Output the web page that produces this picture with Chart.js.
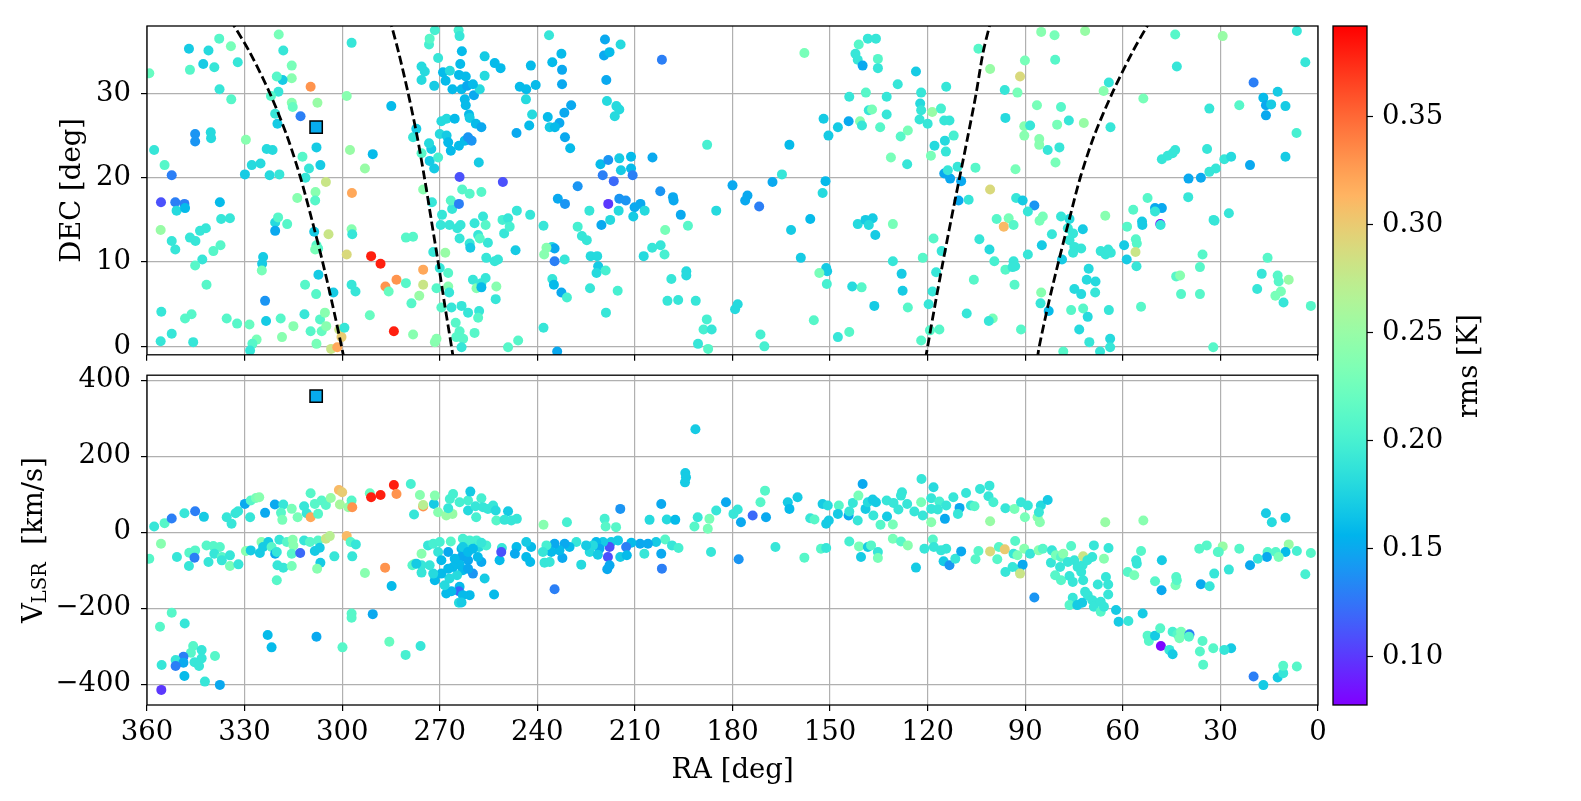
<!DOCTYPE html>
<html>
<head>
<meta charset="utf-8">
<title>RA / DEC / VLSR survey map</title>
<script src="https://cdn.jsdelivr.net/npm/chart.js@4.4.1/dist/chart.umd.min.js"></script>
<style>
  html, body { margin: 0; padding: 0; background: #fff; }
  #wrap { position: relative; width: 1581px; height: 801px; overflow: hidden; }
  canvas { position: absolute; }
  #decChart { left: 0; top: 0; }
  #velChart { left: 0; top: 365px; }
  #barChart { left: 1330px; top: 0; }
</style>
</head>
<body>
<div id="wrap">
  <canvas id="decChart" width="1330" height="365"></canvas>
  <canvas id="velChart" width="1330" height="436"></canvas>
  <canvas id="barChart" width="251" height="801"></canvas>
</div>
<script>
// axis ticks
const raTicks = [360, 330, 300, 270, 240, 210, 180, 150, 120, 90, 60, 30, 0];
const decTicks = [0, 10, 20, 30];
const velTicks = [-400, -200, 0, 200, 400];
const rmsTicks = [0.10, 0.15, 0.20, 0.25, 0.30, 0.35];
const rmsRange = [0.0777, 0.392];

// dashed boundary curves in the DEC panel: [ra, dec]
const curveA = [[299.4,-1.5],[300.2,0],[303.0,5],[306.0,10],[309.3,15],[312.8,20],[317.0,25],[322.2,30],[328.3,34.8],[333.2,38],[335.0,39]];
const curveB = [[265.8,-1.5],[266.4,0],[268.5,5],[270.5,10],[272.6,15],[274.7,20],[277.0,25],[279.7,30],[282.6,34.8],[284.8,38],[285.5,39]];
const curveC = [[120.7,-1.5],[120.0,0],[117.7,5],[115.3,10],[112.8,15],[110.2,20],[107.6,25],[105.1,30],[103.0,34.8],[101.0,38],[100.4,39]];
const curveD = [[86.3,-1.5],[85.7,0],[82.9,5],[79.8,10],[76.5,15],[73.1,20],[68.8,25],[63.3,30],[57.2,34.8],[52.5,38],[50.8,39]];

// the highlighted source (square)
const squareDec = [[308.0, 26.0]];
const squareVel = [[308.0, 358]];
const squareRms = 0.152;

// sources: [ra, dec, rms]
const decPoints = [
  [359.3,32.4,0.22],[347.1,35.3,0.17],[337.8,36.5,0.21],[334.2,35.6,0.23],[341.1,35.1,0.18],[342.7,33.5,0.17],[346.8,32.8,0.21],[339.3,33.1,0.19],[332.1,33.7,0.19],[337.7,30.5,0.19],
  [334.1,29.3,0.21],[319.5,37.0,0.23],[318.1,35.1,0.19],[315.5,33.3,0.23],[315.5,31.8,0.24],[318.3,31.6,0.17],[320.1,32.0,0.21],[319.6,30.2,0.19],[321.9,29.7,0.21],[315.5,28.9,0.24],
  [315.2,28.4,0.22],[309.7,30.8,0.33],[307.6,28.9,0.25],[312.8,27.3,0.13],[320.6,27.6,0.19],[319.9,26.4,0.17],[345.2,25.2,0.14],[345.2,24.3,0.14],[340.4,25.4,0.18],[340.3,24.7,0.18],
  [329.6,24.5,0.24],[357.8,23.3,0.19],[354.6,21.5,0.21],[352.4,20.3,0.13],[329.9,20.4,0.17],[327.8,21.5,0.18],[325.1,21.7,0.18],[323.2,23.4,0.18],[321.4,23.3,0.18],[322.3,20.3,0.18],
  [319.3,20.4,0.19],[312.2,22.5,0.21],[310.2,21.1,0.19],[311.3,20.0,0.19],[307.9,23.6,0.17],[306.7,21.5,0.17],[297.6,23.3,0.25],[293.0,21.1,0.25],[290.6,22.8,0.16],[284.9,28.5,0.16],
  [298.6,29.7,0.24],[297.1,36.0,0.19],[305.0,19.5,0.28],[308.2,18.3,0.24],[308.3,17.3,0.21],[313.8,17.6,0.24],[297.0,18.2,0.32],[355.7,17.1,0.11],[351.3,17.1,0.13],[348.5,16.9,0.13],
  [350.9,16.1,0.18],[348.3,16.4,0.16],[337.6,17.1,0.16],[337.2,15.1,0.19],[334.5,15.2,0.19],[355.8,13.8,0.25],[352.4,12.5,0.19],[351.3,11.5,0.19],[346.8,12.9,0.19],[345.1,12.5,0.19],
  [343.7,13.7,0.19],[341.9,14.0,0.19],[339.6,11.3,0.21],[337.4,12.0,0.21],[343.0,10.3,0.19],[345.2,9.6,0.21],[341.7,7.3,0.21],[320.6,14.7,0.18],[320.6,13.7,0.15],[319.7,15.3,0.21],
  [316.9,14.5,0.21],[324.3,10.6,0.17],[324.6,9.8,0.17],[324.7,9.0,0.23],[308.6,13.6,0.17],[307.9,12.0,0.21],[307.4,11.6,0.21],[308.3,11.5,0.23],[304.2,13.3,0.28],[297.1,13.9,0.24],
  [296.9,13.3,0.19],[298.6,10.9,0.29],[291.1,10.7,0.38],[288.2,9.8,0.38],[307.3,8.5,0.17],[311.4,7.3,0.21],[308.0,6.2,0.21],[302.7,6.4,0.17],[297.1,7.3,0.19],[295.9,6.5,0.19],
  [286.7,7.1,0.33],[285.7,6.5,0.22],[283.3,7.9,0.33],[355.6,4.1,0.19],[352.4,1.5,0.19],[355.8,0.6,0.19],[348.3,3.3,0.21],[346.3,3.8,0.21],[345.8,0.5,0.19],[335.5,3.3,0.21],
  [332.3,2.7,0.21],[328.5,2.6,0.22],[326.3,0.8,0.23],[327.6,0.3,0.21],[328.3,-0.5,0.19],[323.7,5.4,0.14],[323.4,3.0,0.17],[318.9,3.3,0.21],[315.0,2.4,0.24],[318.5,1.1,0.24],
  [311.6,3.8,0.19],[309.7,1.8,0.21],[306.8,3.2,0.21],[305.3,4.0,0.24],[306.3,1.8,0.22],[304.9,2.4,0.24],[307.9,0.3,0.23],[303.4,-0.3,0.28],[300.9,2.0,0.28],[300.2,1.1,0.30],
  [301.5,-0.1,0.32],[299.3,2.2,0.19],[291.5,3.7,0.22],[284.1,1.8,0.38],
  [275.1,9.1,0.32],[275.1,7.3,0.28],[276.3,6.0,0.25],[280.4,7.5,0.21],[278.7,5.1,0.21],[278.2,1.4,0.24],[280.4,12.9,0.21],[278.2,13.0,0.21],[271.0,0.9,0.24],[271.5,0.5,0.24],
  [272.0,11.2,0.19],[268.3,11.1,0.25],[270.0,9.3,0.19],[267.4,8.7,0.21],[267.4,7.1,0.24],[271.0,6.9,0.21],[267.1,6.4,0.19],[269.5,4.6,0.21],[266.4,4.6,0.19],[263.3,4.8,0.19],
  [261.3,4.0,0.19],[257.9,4.2,0.19],[258.2,3.4,0.21],[265.1,2.8,0.21],[263.9,1.8,0.21],[264.9,1.1,0.21],[262.8,0.9,0.21],[263.3,-0.1,0.19],[259.3,1.6,0.21],[249.0,-0.1,0.21],
  [245.9,0.7,0.21],[238.1,2.2,0.19],[233.9,-0.6,0.15],[252.6,7.1,0.24],[252.8,5.6,0.19],[259.8,7.9,0.19],[258.7,6.9,0.24],[257.2,7.5,0.19],[255.9,8.1,0.19],[257.2,7.0,0.16],
  [255.7,10.5,0.19],[253.1,10.1,0.19],[252.1,10.3,0.19],[246.7,11.4,0.17],[263.9,12.8,0.19],[260.8,12.2,0.19],[260.6,11.7,0.17],[258.2,13.2,0.19],[255.2,12.3,0.19],[257.7,12.8,0.21],
  [264.6,14.0,0.19],[267.0,14.4,0.19],[269.7,14.4,0.19],[269.3,15.6,0.19],[266.2,16.3,0.19],[263.6,14.4,0.19],[259.3,14.6,0.19],[256.7,15.4,0.19],[255.9,14.4,0.21],[250.2,13.4,0.19],
  [250.7,15.0,0.20],[249.0,15.2,0.19],[248.5,14.2,0.20],[246.3,16.1,0.19],[242.2,15.6,0.19],[238.1,14.3,0.19],[266.6,17.3,0.21],[264.1,16.9,0.13],[263.1,18.6,0.21],[260.8,18.1,0.21],
  [257.2,18.3,0.21],[275.1,18.6,0.24],[272.4,17.1,0.19],[263.9,20.1,0.11],[250.6,19.5,0.11],[271.7,21.1,0.17],[273.1,22.0,0.17],[270.5,22.4,0.20],[272.6,23.4,0.17],[273.3,24.1,0.18],
  [275.6,22.9,0.21],[278.2,24.8,0.19],[277.2,25.8,0.17],[270.0,25.2,0.18],[267.9,25.0,0.17],[267.4,24.2,0.16],[266.6,23.2,0.16],[264.1,23.8,0.16],[262.3,24.4,0.16],[261.3,24.8,0.14],
  [260.2,24.4,0.14],[258.0,21.8,0.17],[269.5,26.7,0.18],[267.9,27.0,0.18],[265.4,27.0,0.16],[262.3,29.3,0.16],[262.0,28.6,0.16],[261.0,27.5,0.16],[260.8,27.1,0.17],[258.9,26.4,0.16],
  [257.2,26.0,0.15],[263.3,30.5,0.16],[261.6,30.9,0.15],[259.5,29.8,0.15],[257.7,30.5,0.18],[259.8,31.1,0.16],[266.1,30.5,0.16],[268.2,31.5,0.16],[269.0,32.5,0.16],[266.9,32.7,0.18],
  [264.1,32.2,0.16],[262.0,32.0,0.16],[271.7,30.9,0.17],[275.6,31.6,0.18],[274.6,32.6,0.18],[275.6,33.2,0.18],[270.5,34.2,0.19],[273.3,35.8,0.20],[273.1,36.5,0.21],[271.5,37.5,0.20],
  [264.2,37.5,0.20],[263.9,36.8,0.19],[263.2,35.0,0.16],[263.7,33.5,0.16],[256.2,34.4,0.17],[253.1,33.6,0.16],[251.3,33.0,0.16],[256.2,32.1,0.18],[245.4,30.8,0.16],[243.4,30.5,0.16],
  [240.5,31.0,0.16],[243.5,29.3,0.18],[242.0,33.3,0.16],[236.4,36.9,0.19],[235.4,33.7,0.16],[232.6,34.7,0.16],[232.4,32.8,0.15],[232.4,31.1,0.15],[241.6,27.5,0.18],[242.5,26.2,0.16],
  [246.4,25.3,0.15],[236.8,27.2,0.16],[233.2,26.5,0.15],[231.7,27.7,0.15],[229.6,28.6,0.15],[236.2,26.0,0.17],[234.6,26.0,0.16],[231.5,24.8,0.15],[229.9,23.5,0.16],[219.2,36.4,0.15],
  [219.5,34.5,0.15],[217.8,34.9,0.16],[214.4,35.8,0.18],[218.8,31.6,0.15],[218.6,29.1,0.18],[215.7,28.5,0.18],[214.8,28.1,0.18],[216.2,27.3,0.18],[201.7,34.0,0.13],[187.8,23.9,0.20],
  [162.5,23.9,0.16],[220.6,21.6,0.16],[218.2,22.1,0.14],[214.8,22.3,0.17],[211.2,22.5,0.16],[214.3,20.9,0.17],[211.2,21.1,0.16],[219.9,20.3,0.13],[216.5,19.6,0.12],[210.7,20.3,0.13],
  [204.6,22.4,0.15],[227.6,19.0,0.14],[202.2,18.4,0.14],[198.3,17.7,0.15],[198.1,17.3,0.15],[233.7,17.5,0.15],[231.5,16.9,0.14],[218.2,16.9,0.10],[214.8,17.5,0.14],[212.8,17.3,0.14],
  [210.1,16.5,0.15],[208.3,16.9,0.15],[207.0,16.1,0.18],[215.0,16.1,0.18],[217.6,15.0,0.18],[224.0,16.1,0.19],[220.3,14.4,0.15],[210.5,15.4,0.17],[195.9,15.6,0.15],[180.0,19.1,0.15],
  [175.4,17.9,0.15],[176.1,17.3,0.15],[171.8,16.6,0.13],[167.7,19.5,0.15],[164.8,20.4,0.19],[185.0,16.1,0.18],[162.0,13.8,0.17],[159.0,10.5,0.17],[193.7,14.3,0.21],[200.7,13.8,0.23],
  [227.6,14.2,0.20],[226.3,13.1,0.19],[224.8,12.6,0.19],[223.6,10.7,0.18],[221.6,10.7,0.18],[221.3,9.5,0.17],[221.8,8.7,0.18],[219.0,9.0,0.20],[223.8,6.9,0.19],[215.3,6.6,0.20],
  [218.9,4.0,0.19],[207.3,10.7,0.18],[204.7,11.7,0.19],[202.1,12.0,0.19],[200.9,10.9,0.20],[235.5,11.8,0.18],[234.7,11.6,0.15],[237.2,11.7,0.24],[237.9,10.9,0.24],[234.7,10.1,0.13],
  [231.6,10.3,0.19],[235.4,8.0,0.19],[234.9,7.3,0.16],[232.6,6.4,0.15],[230.9,5.8,0.20],[198.8,8.0,0.19],[194.2,8.9,0.18],[194.2,8.4,0.18],[200.0,5.4,0.19],[196.7,5.5,0.19],
  [191.3,5.4,0.19],[187.9,3.2,0.20],[188.9,2.0,0.20],[186.4,2.0,0.19],[190.6,0.3,0.19],[187.5,-0.3,0.21],[179.2,4.4,0.18],[178.4,5.0,0.18],[171.4,1.4,0.20],[170.2,0.0,0.20],
  [157.9,34.8,0.23],[141.2,35.8,0.21],[138.4,36.5,0.19],[135.9,36.5,0.19],[142.2,34.7,0.19],[141.5,34.0,0.19],[140.0,33.3,0.15],[135.3,34.1,0.21],[135.3,33.0,0.19],[123.6,32.6,0.17],
  [129.2,31.1,0.19],[144.1,29.6,0.19],[139.0,30.1,0.21],[132.6,29.6,0.19],[152.0,27.0,0.17],[150.5,25.0,0.17],[147.6,26.0,0.17],[144.3,26.7,0.15],[140.8,26.7,0.24],[140.2,26.2,0.19],
  [138.1,28.0,0.19],[137.1,28.1,0.23],[132.6,27.5,0.19],[134.6,26.0,0.21],[128.3,24.9,0.21],[126.1,25.6,0.23],[131.3,22.4,0.23],[126.3,21.6,0.19],[122.0,30.1,0.19],[122.3,28.8,0.18],
  [122.0,28.0,0.19],[122.5,26.9,0.19],[120.0,26.4,0.19],[118.6,27.8,0.25],[115.9,28.2,0.20],[114.9,26.8,0.19],[113.3,26.8,0.19],[114.3,30.8,0.19],[104.4,35.3,0.21],[100.8,32.9,0.25],
  [91.6,32.0,0.29],[90.1,33.9,0.23],[96.3,30.4,0.19],[92.4,30.1,0.23],[96.1,27.1,0.18],[117.9,23.8,0.18],[114.7,24.4,0.18],[112.0,25.0,0.20],[114.4,23.1,0.19],[119.0,22.6,0.23],
  [114.9,20.5,0.15],[113.1,19.9,0.15],[113.8,20.9,0.19],[110.8,21.3,0.19],[109.7,19.6,0.15],[105.3,21.2,0.21],[110.5,17.3,0.15],[107.4,17.4,0.19],[100.8,18.6,0.29],[90.3,26.1,0.24],
  [90.3,25.0,0.24],[88.5,26.2,0.19],[86.4,28.6,0.23],[85.7,24.6,0.24],[85.7,23.9,0.24],[93.0,21.0,0.23],[85.1,37.3,0.24],[81.0,36.9,0.23],[71.6,37.4,0.25],[80.8,34.0,0.21],
  [79.0,28.4,0.21],[80.2,26.3,0.23],[76.6,26.8,0.19],[72.0,26.5,0.25],[83.1,23.3,0.19],[79.5,23.6,0.19],[80.7,21.8,0.23],[64.3,31.3,0.19],[65.9,30.3,0.24],[63.8,26.0,0.19],
  [53.7,29.4,0.23],[43.9,37.0,0.21],[43.4,33.2,0.19],[33.4,28.2,0.19],[34.1,23.4,0.19],[48.0,22.2,0.19],[46.2,22.6,0.19],[44.7,22.9,0.19],[43.9,23.3,0.19],[39.8,19.9,0.15],
  [36.0,20.0,0.15],[33.4,20.7,0.19],[31.4,21.1,0.19],[39.9,17.7,0.19],[52.4,17.6,0.21],[50.1,16.4,0.15],[48.0,16.4,0.15],[50.1,16.0,0.19],[48.5,14.5,0.08],[48.4,14.4,0.19],
  [54.1,14.8,0.17],[54.0,14.4,0.17],[56.8,16.2,0.21],[58.7,14.2,0.21],[65.4,15.5,0.24],[56.0,12.7,0.21],[55.7,12.2,0.21],[56.1,11.2,0.28],[32.1,15.0,0.19],[35.5,10.9,0.21],
  [36.3,9.4,0.21],[43.6,8.3,0.21],[42.4,8.4,0.24],[42.1,6.2,0.21],[36.3,6.2,0.21],[54.4,4.7,0.21],[32.2,-0.1,0.21],[72.3,13.9,0.17],[76.4,15.1,0.18],[79.0,15.4,0.19],
  [81.8,13.3,0.19],[76.9,14.0,0.19],[75.3,13.4,0.19],[76.4,12.6,0.19],[74.9,11.8,0.19],[72.8,11.6,0.19],[75.3,11.1,0.19],[66.8,11.3,0.19],[65.3,10.9,0.19],[63.7,11.1,0.19],
  [64.5,11.5,0.19],[59.6,12.0,0.17],[58.8,10.3,0.17],[55.8,9.5,0.19],[78.7,10.3,0.17],[70.5,9.2,0.18],[71.1,7.9,0.18],[68.4,7.7,0.18],[74.9,6.8,0.18],[72.8,6.2,0.18],
  [68.5,6.4,0.19],[75.9,4.3,0.21],[72.2,4.5,0.21],[70.8,3.5,0.18],[64.3,4.3,0.19],[73.4,2.0,0.18],[70.3,0.5,0.19],[63.9,0.9,0.18],[63.9,-0.1,0.19],[67.0,-0.6,0.19],
  [78.3,-0.6,0.21],[85.1,6.4,0.24],[85.3,5.1,0.19],[82.8,4.2,0.16],[84.9,12.0,0.17],[89.2,10.9,0.19],[93.1,9.5,0.19],[93.3,7.3,0.21],[91.3,2.0,0.21],[105.8,7.9,0.21],
  [100.0,3.3,0.23],[101.2,3.0,0.19],[108.0,3.9,0.19],[116.4,2.0,0.21],[119.3,1.9,0.21],[122.0,0.7,0.21],[119.7,5.0,0.19],[118.5,6.5,0.19],[126.1,4.6,0.21],[117.4,8.8,0.19],
  [121.5,10.5,0.21],[115.7,11.3,0.19],[118.2,12.8,0.21],[104.1,12.7,0.19],[101.0,11.5,0.18],[99.5,10.1,0.20],[96.1,9.1,0.21],[93.6,10.1,0.19],[93.9,9.4,0.19],[98.8,15.1,0.21],
  [95.1,15.2,0.23],[96.6,14.2,0.31],[93.6,14.4,0.21],[92.8,17.6,0.19],[90.8,17.3,0.17],[87.2,16.7,0.14],[89.2,16.0,0.19],[85.6,14.9,0.23],[84.6,15.4,0.23],[151.4,19.6,0.16],
  [152.3,18.2,0.18],[156.1,15.1,0.16],[130.7,14.5,0.23],[141.5,14.5,0.18],[139.1,15.0,0.17],[136.9,15.2,0.17],[138.1,14.4,0.18],[136.1,13.2,0.17],[130.7,10.1,0.19],[128.0,8.6,0.17],
  [127.7,6.6,0.17],[136.4,4.8,0.17],[143.2,7.1,0.18],[140.3,7.0,0.21],[151.2,9.3,0.17],[150.9,8.9,0.17],[153.3,8.7,0.23],[151.0,7.4,0.20],[155.0,3.1,0.21],[147.6,1.1,0.19],
  [144.1,1.7,0.21],
  [29.3,36.8,0.25],[6.5,37.4,0.19],[3.9,33.7,0.19],[19.8,31.3,0.13],[12.4,30.2,0.17],[16.8,29.5,0.16],[16.0,28.6,0.15],[14.4,28.7,0.17],[10.0,28.5,0.17],[16.0,27.4,0.15],
  [24.2,28.6,0.21],[6.6,25.3,0.20],[28.8,22.2,0.19],[26.7,22.5,0.18],[20.9,21.5,0.15],[10.0,22.5,0.17],[27.4,15.8,0.19],[31.8,14.9,0.19],[15.5,10.5,0.21],[17.3,8.6,0.19],
  [12.4,8.4,0.21],[12.1,7.7,0.21],[9.0,7.9,0.25],[18.7,6.8,0.19],[13.1,6.0,0.23],[11.4,6.5,0.23],[10.6,5.2,0.19],[2.2,4.8,0.21]
];

// sources: [ra, vlsr, rms]
const velPoints = [
  [357.8,14.9,0.19],[354.6,23.6,0.21],[352.4,35.8,0.13],[348.5,49.8,0.19],[345.2,55.1,0.13],[342.5,40.2,0.17],[335.5,39.3,0.19],[334.0,21.9,0.19],[332.8,49.8,0.19],[332.0,55.1,0.19],
  [329.9,74.3,0.15],[328.3,39.3,0.19],[328.1,83.0,0.21],[326.5,90.0,0.23],[325.5,91.8,0.24],[323.7,50.7,0.15],[320.7,72.6,0.15],[318.1,72.6,0.19],[318.8,50.7,0.21],[318.4,32.3,0.23],
  [315.5,61.2,0.23],[313.7,39.3,0.23],[311.7,68.2,0.19],[310.9,49.8,0.19],[309.7,102.3,0.21],[309.7,39.3,0.32],[308.4,74.3,0.21],[307.4,48.1,0.21],[306.3,83.0,0.21],[305.0,71.7,0.21],
  [303.5,90.0,0.25],[301.0,111.0,0.31],[300.0,104.9,0.30],[300.7,72.6,0.26],[298.1,65.6,0.25],[297.1,83.0,0.21],[296.9,65.6,0.33],[291.5,102.3,0.22],[291.1,91.8,0.38],[288.2,97.9,0.38],
  [284.1,124.1,0.38],[283.3,100.5,0.33],[359.3,-69.9,0.21],[355.7,-30.6,0.24],[350.8,-65.6,0.19],[347.0,-54.2,0.21],[345.2,-48.1,0.21],[345.4,-67.3,0.13],[347.1,-89.2,0.19],[341.7,-35.0,0.21],
  [341.1,-78.7,0.19],[339.6,-36.7,0.21],[337.6,-39.3,0.21],[339.3,-56.8,0.19],[337.0,-65.6,0.21],[334.5,-61.2,0.19],[337.0,-74.3,0.19],[334.5,-89.2,0.23],[331.9,-84.8,0.19],[329.6,-49.8,0.24],
  [328.1,-48.1,0.17],[325.3,-55.1,0.17],[324.8,-26.2,0.24],[324.3,-39.3,0.17],[322.7,-26.2,0.17],[321.7,-39.3,0.21],[320.6,-56.8,0.15],[319.3,-20.1,0.19],[320.1,-52.4,0.19],[319.9,-87.4,0.19],
  [318.1,-93.5,0.19],[320.1,-126.7,0.21],[317.0,-26.2,0.21],[315.2,-20.1,0.24],[315.0,-35.0,0.24],[315.5,-56.8,0.21],[315.5,-89.2,0.23],[312.9,-55.1,0.12],[311.7,-21.9,0.19],[309.9,-26.2,0.21],
  [308.4,-49.8,0.17],[307.4,-21.9,0.21],[306.9,-41.1,0.17],[306.7,-80.4,0.17],[307.7,-96.2,0.24],[305.0,-17.5,0.28],[303.8,-10.5,0.27],[302.4,-63.8,0.19],[298.6,-10.5,0.31],[297.4,-26.2,0.21],
  [295.8,-32.3,0.19],[296.9,-63.8,0.19],[293.0,-107.5,0.24],[286.8,-93.5,0.33],[284.8,-141.6,0.16],[352.4,-212.4,0.21],[356.0,-249.1,0.21],[348.4,-240.4,0.19],[345.8,-299.8,0.21],[346.5,-317.3,0.21],
  [343.2,-310.3,0.19],[343.2,-332.2,0.19],[345.4,-342.7,0.19],[344.0,-352.3,0.19],[348.8,-327.8,0.13],[351.2,-336.5,0.19],[348.8,-343.5,0.15],[351.2,-352.3,0.13],[355.5,-349.7,0.19],[348.5,-378.5,0.16],
  [339.1,-326.0,0.21],[342.2,-393.4,0.19],[337.6,-402.1,0.15],[355.6,-415.2,0.10],[322.9,-271.0,0.16],[321.7,-303.3,0.16],[307.9,-275.3,0.15],[299.9,-303.3,0.21],[297.1,-214.2,0.21],[297.1,-225.5,0.21],
  [290.6,-215.9,0.15],[285.5,-288.5,0.22],
  [278.9,126.6,0.20],[276.1,97.8,0.24],[275.1,67.2,0.33],[275.1,71.6,0.27],[277.9,46.3,0.19],[271.8,74.2,0.17],[271.5,96.1,0.24],[270.5,52.4,0.24],[268.0,43.7,0.25],[266.1,48.0,0.25],
  [267.4,62.9,0.19],[266.9,87.3,0.20],[265.9,100.4,0.20],[263.9,78.6,0.20],[261.3,83.0,0.20],[260.6,106.6,0.17],[261.3,56.8,0.18],[259.0,68.1,0.19],[258.8,39.3,0.20],[257.2,89.1,0.20],
  [256.7,65.5,0.19],[255.2,61.1,0.19],[253.6,69.9,0.19],[252.8,56.8,0.18],[252.6,30.6,0.21],[249.0,55.0,0.17],[250.1,32.3,0.19],[248.0,30.6,0.19],[246.3,34.9,0.19],[238.1,19.2,0.24],
  [230.9,26.2,0.20],[219.3,34.9,0.20],[219.0,14.8,0.21],[215.8,13.1,0.21],[214.5,61.1,0.14],[201.9,74.2,0.15],[205.5,32.3,0.18],[200.2,33.2,0.18],[197.6,32.3,0.16],[194.5,155.5,0.17],
  [194.3,144.1,0.17],[194.6,131.0,0.17],[191.4,270.7,0.17],[191.7,14.8,0.21],[190.7,39.3,0.19],[187.6,8.7,0.23],[187.1,34.9,0.23],[185.0,56.8,0.19],[182.0,78.6,0.15],[179.7,48.0,0.19],
  [178.4,59.4,0.19],[177.4,26.2,0.15],[173.8,43.7,0.12],[169.7,39.3,0.15],[171.4,78.6,0.21],[170.0,109.2,0.21],[163.0,78.6,0.17],[162.5,61.1,0.16],[160.0,91.7,0.17],[166.8,-39.3,0.19],
  [178.1,-71.6,0.14],[186.6,-52.4,0.19],[201.9,-56.8,0.15],[201.7,-96.1,0.13],[200.7,-19.2,0.21],[198.6,-34.9,0.19],[196.6,-41.9,0.20],[203.5,-26.2,0.17],[206.0,-30.6,0.15],[208.4,-30.6,0.15],
  [207.1,-56.8,0.19],[211.1,-27.9,0.16],[212.7,-39.3,0.13],[214.5,-65.5,0.17],[212.5,-61.1,0.16],[215.2,-21.8,0.17],[217.3,-26.2,0.17],[217.8,-39.3,0.11],[218.3,-65.5,0.11],[218.5,-97.8,0.15],
  [217.8,-87.3,0.15],[219.8,-26.2,0.17],[221.9,-26.2,0.16],[220.9,-43.7,0.15],[222.9,-34.9,0.18],[223.9,-52.4,0.18],[221.4,-59.4,0.17],[225.0,-34.9,0.17],[228.0,-26.2,0.19],[226.5,-85.6,0.18],
  [230.1,-39.3,0.16],[231.6,-30.6,0.15],[232.3,-68.1,0.15],[233.2,-48.0,0.16],[234.7,-30.6,0.15],[235.7,-52.4,0.16],[237.2,-34.9,0.20],[238.3,-52.4,0.19],[237.8,-80.3,0.19],[236.2,-78.6,0.19],
  [234.7,-150.2,0.13],[241.9,-39.3,0.16],[243.4,-26.2,0.17],[243.4,-65.5,0.16],[242.2,-78.6,0.16],[246.4,-39.3,0.16],[246.9,-56.8,0.15],[250.9,-41.9,0.19],[251.6,-74.2,0.16],[251.1,-52.4,0.11],
  [253.3,-164.2,0.16],[256.2,-122.3,0.17],[257.2,-78.6,0.15],[257.9,-39.3,0.18],[258.7,-21.8,0.20],[255.7,-34.9,0.20],[257.2,-27.9,0.19],[260.6,-34.9,0.19],[260.8,-21.8,0.20],[262.9,-17.5,0.20],
  [263.3,-43.7,0.16],[263.3,-65.5,0.15],[261.3,-74.2,0.15],[263.9,-85.6,0.16],[262.9,-100.4,0.16],[259.8,-109.2,0.14],[264.7,-113.5,0.18],[263.9,-144.1,0.16],[264.1,-155.5,0.12],[260.8,-165.9,0.16],
  [262.9,-165.9,0.16],[264.1,-186.0,0.18],[263.3,-185.2,0.17],[268.0,-161.6,0.16],[266.4,-155.5,0.16],[268.5,-139.7,0.18],[267.0,-122.3,0.18],[269.5,-109.2,0.16],[271.5,-126.6,0.16],[272.0,-109.2,0.18],
  [273.1,-87.3,0.19],[275.6,-87.3,0.19],[275.6,-106.6,0.19],[277.7,-83.0,0.25],[278.4,-87.3,0.21],[277.2,-83.0,0.17],[275.6,-56.8,0.24],[273.6,-34.9,0.19],[272.0,-30.6,0.20],[270.0,-26.2,0.20],
  [270.5,-52.4,0.19],[269.5,-74.2,0.16],[267.4,-52.4,0.15],[266.6,-24.5,0.21],[262.9,-39.3,0.17],[261.3,-52.4,0.16],[259.8,-43.7,0.16],[258.3,-65.5,0.16],[265.4,-69.9,0.16],[265.9,-91.7,0.16],
  [267.4,-96.1,0.16],[261.3,-96.1,0.15],[280.5,-323.1,0.20],[275.9,-299.6,0.19],
  [157.9,-67.2,0.21],[156.1,36.7,0.19],[154.8,33.2,0.21],[152.3,74.2,0.17],[150.7,69.9,0.18],[151.2,21.8,0.17],[150.4,30.6,0.17],[152.8,-43.7,0.21],[151.2,-41.9,0.19],[147.3,69.9,0.21],
  [147.6,48.0,0.17],[144.3,43.7,0.15],[144.1,54.1,0.19],[143.0,76.9,0.19],[141.3,96.1,0.23],[140.0,126.6,0.15],[141.5,30.6,0.19],[139.1,61.1,0.17],[138.4,78.6,0.18],[136.9,85.6,0.17],
  [135.9,78.6,0.17],[136.7,43.7,0.19],[134.5,19.2,0.21],[132.5,41.0,0.17],[132.6,83.0,0.19],[130.5,76.9,0.19],[129.0,59.4,0.19],[130.7,20.1,0.23],[127.9,104.8,0.19],[128.2,96.1,0.19],
  [126.3,74.2,0.19],[124.1,54.1,0.19],[122.0,78.6,0.23],[121.9,139.7,0.19],[121.5,43.7,0.19],[118.9,26.2,0.24],[118.2,117.9,0.18],[118.9,89.1,0.19],[118.9,61.1,0.19],[116.4,80.3,0.20],
  [116.9,59.4,0.19],[114.7,34.9,0.15],[114.3,69.9,0.19],[112.1,91.7,0.19],[110.2,63.8,0.15],[110.7,48.0,0.19],[108.2,103.1,0.19],[106.7,69.9,0.19],[105.6,68.1,0.21],[103.9,113.5,0.19],
  [101.0,122.3,0.19],[101.3,94.3,0.19],[99.8,78.6,0.20],[100.8,28.8,0.25],[96.1,62.9,0.19],[93.3,61.1,0.23],[91.3,78.6,0.19],[89.2,69.9,0.19],[90.1,39.3,0.23],[86.2,39.3,0.24],
  [85.5,26.2,0.24],[85.2,69.9,0.18],[85.8,52.4,0.19],[83.1,84.7,0.17],[65.4,26.2,0.25],[53.7,30.6,0.24],[144.1,-24.5,0.20],[141.1,-37.6,0.23],[138.4,-39.3,0.17],[137.4,-34.9,0.21],
  [140.5,-65.5,0.17],[135.3,-52.4,0.19],[135.3,-68.1,0.23],[130.7,-17.5,0.23],[128.2,-24.5,0.21],[126.1,-34.9,0.24],[123.6,-93.4,0.17],[121.0,-43.7,0.19],[118.4,-19.2,0.21],[118.1,-39.3,0.19],
  [115.9,-48.0,0.19],[114.3,-43.7,0.19],[115.1,-76.9,0.17],[113.3,-87.3,0.14],[111.5,-69.9,0.19],[109.7,-50.7,0.15],[105.3,-71.6,0.21],[104.4,-49.8,0.21],[100.8,-50.7,0.29],[98.6,-71.6,0.21],
  [98.1,-39.3,0.21],[96.3,-45.4,0.30],[96.1,-104.8,0.19],[93.9,-91.7,0.19],[93.6,-56.8,0.19],[93.1,-23.6,0.21],[92.4,-61.1,0.23],[91.8,-97.8,0.19],[90.8,-85.6,0.15],[91.6,-109.2,0.28],
  [90.3,-43.7,0.24],[88.5,-56.8,0.19],[87.2,-172.1,0.14],[85.9,-48.0,0.24],[84.6,-43.7,0.21],[81.8,-48.0,0.19],[82.1,-80.3,0.19],[80.6,-61.1,0.23],[79.0,-65.5,0.21],[78.3,-56.8,0.24],
  [80.8,-113.5,0.21],[79.0,-126.6,0.21],[79.3,-91.7,0.19],[76.9,-78.6,0.19],[75.9,-36.7,0.21],[76.4,-115.3,0.19],[74.9,-74.2,0.19],[75.4,-131.0,0.19],[73.9,-91.7,0.19],[72.4,-87.3,0.19],
  [72.2,-63.8,0.28],[72.8,-104.8,0.19],[72.2,-126.6,0.19],[70.9,-74.2,0.19],[69.4,-65.5,0.19],[68.9,-34.9,0.19],[65.8,-69.9,0.24],[64.4,-41.9,0.19],[71.6,-157.2,0.19],[70.8,-165.9,0.19],
  [67.7,-138.0,0.19],[65.2,-117.9,0.19],[64.5,-138.0,0.19],[64.5,-164.2,0.19],[75.4,-172.9,0.19],[76.4,-192.1,0.21],[72.5,-186.0,0.17],[74.0,-192.1,0.17],[69.4,-179.0,0.19],[68.9,-196.5,0.19],
  [66.8,-183.4,0.19],[66.8,-209.6,0.21],[65.8,-196.5,0.19],[62.1,-205.2,0.17],[61.3,-235.8,0.17],[58.3,-234.1,0.19],[58.5,-104.8,0.21],[56.5,-113.5,0.23],[55.7,-83.0,0.19],[55.9,-74.2,0.19],
  [54.4,-49.8,0.21],[53.9,-214.0,0.17],[48.0,-74.2,0.17],[50.1,-129.3,0.21],[48.1,-152.8,0.15],[43.6,-117.9,0.21],[43.8,-139.7,0.23],[43.4,-126.6,0.21],[52.4,-272.5,0.21],[52.0,-286.5,0.21],
  [50.1,-272.5,0.17],[48.5,-253.3,0.21],[48.3,-299.6,0.08],[45.7,-310.0,0.19],[44.7,-321.4,0.17],[44.7,-262.0,0.20],[43.2,-269.0,0.21],[42.1,-262.0,0.23],[42.6,-279.5,0.23],[39.5,-269.0,0.13],
  [39.7,-275.1,0.21],[36.0,-137.1,0.15],[33.3,-142.4,0.19],[36.5,-43.7,0.21],[34.2,-34.9,0.21],[30.8,-52.4,0.21],[31.9,-109.2,0.19],[35.5,-286.5,0.21],[36.3,-314.4,0.21],[35.3,-349.3,0.21],
  [32.2,-305.7,0.21],
  [16.0,49.8,0.17],[14.2,26.2,0.18],[10.0,37.6,0.17],[9.0,-32.3,0.25],[10.0,-52.4,0.16],[6.5,-49.8,0.20],[2.2,-55.0,0.21],[3.9,-110.9,0.20],[15.5,-52.4,0.21],[15.7,-65.5,0.15],
  [13.0,-52.4,0.21],[12.1,-65.5,0.23],[18.5,-69.9,0.19],[20.9,-87.3,0.15],[24.2,-43.7,0.21],[29.3,-37.6,0.25],[30.5,-52.4,0.21],[27.4,-98.7,0.19],[26.7,-305.7,0.17],[28.8,-310.0,0.19],
  [19.8,-379.9,0.13],[16.8,-402.6,0.17],[12.4,-382.5,0.17],[10.7,-371.2,0.19],[10.7,-352.0,0.21],[6.5,-353.7,0.21]
];

// matplotlib "rainbow" colormap
function rainbow(v) {
  const t = Math.min(1, Math.max(0, (v - rmsRange[0]) / (rmsRange[1] - rmsRange[0])));
  const r = Math.min(1, Math.abs(2 * t - 0.5));
  const g = Math.sin(Math.PI * t);
  const b = Math.cos(Math.PI * t / 2);
  return 'rgb(' + Math.round(r * 255) + ',' + Math.round(g * 255) + ',' + Math.round(b * 255) + ')';
}

const FONT = "'DejaVu Serif', 'Liberation Serif', serif";
Chart.defaults.font.family = FONT;
Chart.defaults.font.size = 27.5;
Chart.defaults.color = '#000';

const toXY = arr => arr.map(p => ({ x: p[0], y: p[1] }));
const tickList = values => scale => { scale.ticks = values.map(v => ({ value: v })); };
const fixSize = (w, h) => scale => {
  if (w != null) scale.width = w;
  if (h != null) scale.height = h;
  scale.paddingLeft = scale.paddingRight = scale.paddingTop = scale.paddingBottom = 0;
};
const gridStyle = { color: '#b0b0b0', lineWidth: 1.2, tickColor: '#000', tickLength: 6, tickWidth: 1.2 };

// black box around a plot area
const frame = {
  id: 'frame',
  afterDraw(chart) {
    const a = chart.chartArea, ctx = chart.ctx;
    ctx.save();
    ctx.strokeStyle = '#000';
    ctx.lineWidth = 1.3;
    ctx.strokeRect(a.left, a.top, a.right - a.left, a.bottom - a.top);
    ctx.restore();
  }
};

function raAxis(labels, height) {
  return {
    type: 'linear', min: 0, max: 360, reverse: true,
    afterBuildTicks: tickList(raTicks),
    afterFit: fixSize(null, height),
    grid: gridStyle,
    border: { display: false },
    ticks: { display: labels, padding: 5, maxRotation: 0, autoSkip: false },
    title: labels ? { display: true, text: 'RA [deg]', padding: { top: 0, bottom: 14 } } : { display: false }
  };
}

function curveSet(c) {
  return { data: toXY(c), showLine: true, borderColor: '#000', borderWidth: 2.8, borderDash: [9, 4],
           pointRadius: 0, tension: 0.3, fill: false };
}

function squareSet(pts) {
  return { data: toXY(pts), pointStyle: 'rect', pointRadius: 8.7, backgroundColor: rainbow(squareRms),
           borderColor: '#000', borderWidth: 1.5 };
}

function pointSet(pts) {
  return { data: toXY(pts), pointRadius: 5, borderWidth: 0, backgroundColor: pts.map(p => rainbow(p[2])) };
}

const common = {
  responsive: false, animation: false, events: [],
  plugins: { legend: { display: false }, tooltip: { enabled: false } }
};

// top panel: DEC vs RA
new Chart(document.getElementById('decChart'), {
  type: 'scatter',
  data: { datasets: [squareSet(squareDec), curveSet(curveA), curveSet(curveB), curveSet(curveC), curveSet(curveD), pointSet(decPoints)] },
  options: Object.assign({}, common, {
    layout: { padding: { left: 0, top: 26, right: 12, bottom: 0 } },
    scales: {
      x: raAxis(false, 8),
      y: {
        min: -1, max: 38,
        afterBuildTicks: tickList(decTicks),
        afterFit: fixSize(147, null),
        grid: gridStyle,
        border: { display: false },
        ticks: { padding: 10 },
        title: { display: true, text: 'DEC [deg]', padding: { top: 56, bottom: 0 } }
      }
    }
  }),
  plugins: [frame]
});

// V_LSR label with a subscript
const velLabel = {
  id: 'velLabel',
  afterDraw(chart) {
    const ctx = chart.ctx, a = chart.chartArea;
    const big = "27.5px " + FONT, small = "19.5px " + FONT;
    ctx.save();
    ctx.font = big;
    const wV = ctx.measureText('V').width, wRest = ctx.measureText('  [km/s]').width;
    ctx.font = small;
    const wSub = ctx.measureText('LSR').width;
    ctx.translate(42, (a.top + a.bottom) / 2);
    ctx.rotate(-Math.PI / 2);
    ctx.fillStyle = '#000';
    ctx.textBaseline = 'alphabetic';
    ctx.textAlign = 'left';
    let x = -(wV + wSub + wRest) / 2;
    ctx.font = big; ctx.fillText('V', x, 0); x += wV;
    ctx.font = small; ctx.fillText('LSR', x, 4); x += wSub;
    ctx.font = big; ctx.fillText('  [km/s]', x, 0);
    ctx.restore();
  }
};

// bottom panel: VLSR vs RA
new Chart(document.getElementById('velChart'), {
  type: 'scatter',
  data: { datasets: [squareSet(squareVel), pointSet(velPoints)] },
  options: Object.assign({}, common, {
    layout: { padding: { left: 0, top: 9, right: 12, bottom: 0 } },
    scales: {
      x: raAxis(true, 96),
      y: {
        min: -455, max: 413,
        afterBuildTicks: tickList(velTicks),
        afterFit: fixSize(147, null),
        grid: gridStyle,
        border: { display: false },
        ticks: { padding: 10, callback: v => String(v).replace('-', '\u2212') }
      }
    }
  }),
  plugins: [frame, velLabel]
});

// colorbar
const colorbarFill = {
  id: 'colorbarFill',
  beforeDatasetsDraw(chart) {
    const a = chart.chartArea, ctx = chart.ctx, y = chart.scales.y;
    const g = ctx.createLinearGradient(0, y.getPixelForValue(rmsRange[0]), 0, y.getPixelForValue(rmsRange[1]));
    for (let i = 0; i <= 40; i++) {
      const f = i / 40;
      g.addColorStop(f, rainbow(rmsRange[0] + f * (rmsRange[1] - rmsRange[0])));
    }
    ctx.save();
    ctx.fillStyle = g;
    ctx.fillRect(a.left, a.top, a.right - a.left, a.bottom - a.top);
    ctx.restore();
  },
  afterDraw(chart) {
    const ctx = chart.ctx;
    ctx.save();
    ctx.font = "27.5px " + FONT;
    ctx.fillStyle = '#000';
    ctx.textAlign = 'center';
    ctx.textBaseline = 'alphabetic';
    ctx.translate(147, 366);
    ctx.rotate(-Math.PI / 2);
    ctx.fillText('rms [K]', 0, 0);
    ctx.restore();
  }
};

new Chart(document.getElementById('barChart'), {
  type: 'scatter',
  data: { datasets: [{ data: [] }] },
  options: Object.assign({}, common, {
    layout: { padding: { left: 3, top: 26, right: 0, bottom: 96 } },
    scales: {
      x: { display: false, min: 0, max: 1 },
      y: {
        position: 'right',
        min: rmsRange[0], max: rmsRange[1],
        afterBuildTicks: tickList(rmsTicks),
        afterFit: fixSize(214, null),
        grid: { drawOnChartArea: false, tickColor: '#000', tickLength: 6, tickWidth: 1.2 },
        border: { display: false },
        ticks: { padding: 9, callback: v => v.toFixed(2) }
      }
    }
  }),
  plugins: [colorbarFill, frame]
});
</script>
</body>
</html>
